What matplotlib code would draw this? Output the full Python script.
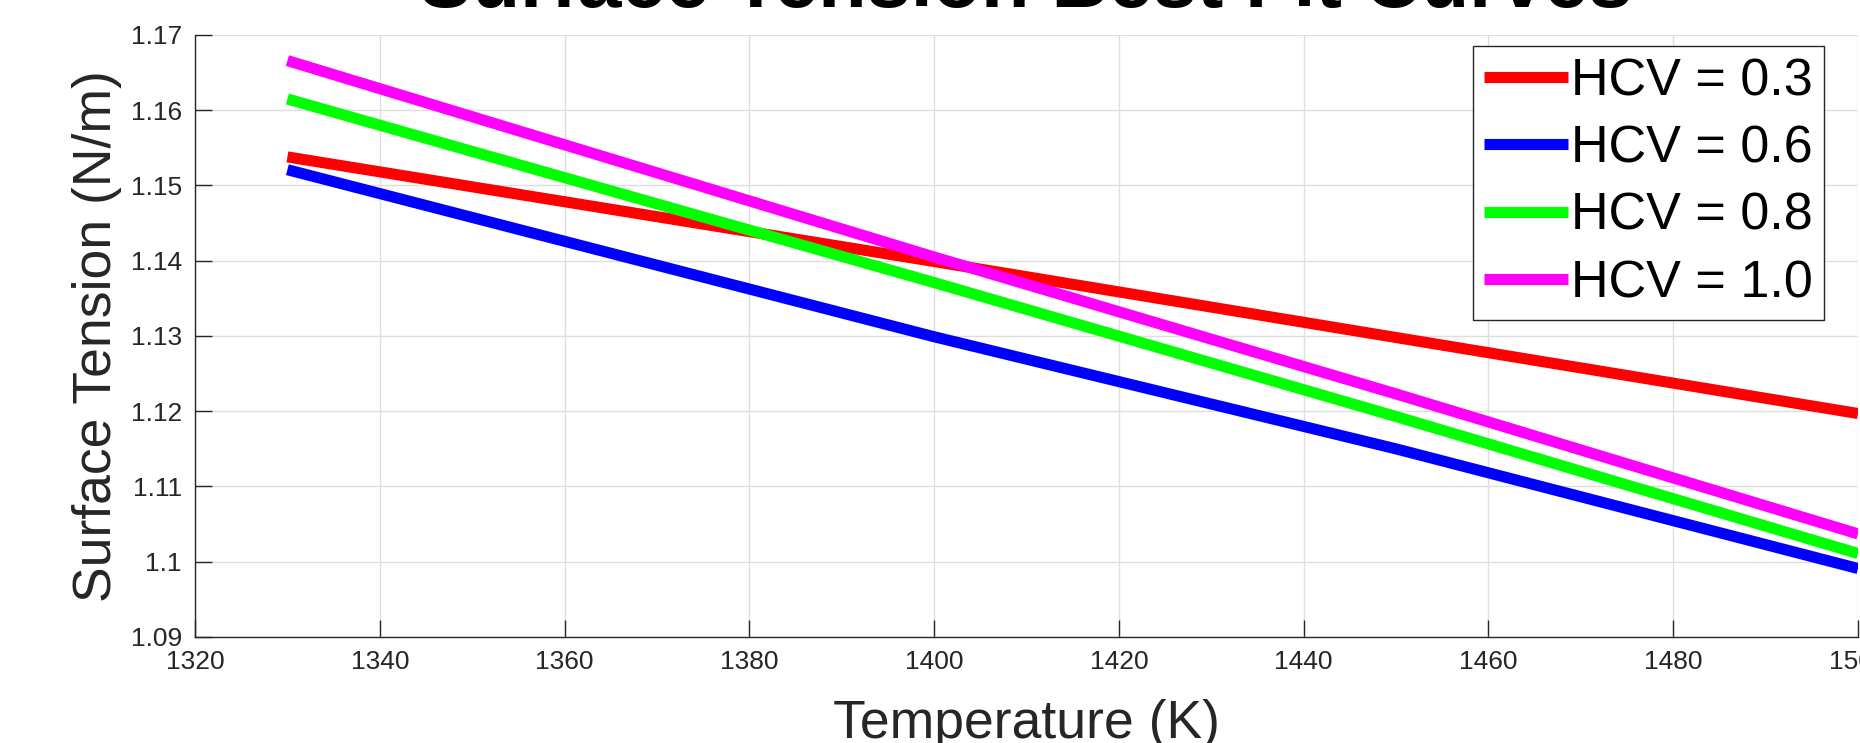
import matplotlib
matplotlib.use("Agg")
import matplotlib.pyplot as plt
import numpy as np
from matplotlib.ticker import FuncFormatter

plt.rcParams['font.family'] = ['Liberation Sans', 'DejaVu Sans']

temp = [1330, 1400, 1450, 1500]

# surface tension (N/m) for each HCV
st_03 = [1.1538, 1.1399, 1.1298, 1.1197]
st_06 = [1.1521, 1.1299, 1.1150, 1.0991]
st_08 = [1.1615, 1.1371, 1.1193, 1.1011]
st_10 = [1.1666, 1.1405, 1.1223, 1.1037]

labels = ['HCV = 0.3', 'HCV = 0.6', 'HCV = 0.8', 'HCV = 1.0']
colors = ['#ff0000', '#0000ff', '#00ff00', '#ff00ff']

xticks = np.arange(1320, 1501, 20)
yticks = np.arange(1.09, 1.1701, 0.01)

dark = (0.15, 0.15, 0.15)

fig = plt.figure(figsize=(18.6, 7.43), dpi=100)
ax = fig.add_axes([195/1860, 1 - 637/743, 1663/1860, 602/743])

for ys, lab, c in zip([st_03, st_06, st_08, st_10], labels, colors):
    ax.plot(temp, ys, color=c, lw=8, label=lab, solid_capstyle='butt')

ax.set_xlim(1320, 1500)
ax.set_ylim(1.09, 1.17)
ax.set_xticks(xticks)
ax.set_yticks(yticks)
ax.yaxis.set_major_formatter(FuncFormatter(lambda v, p: f'{round(v, 2):g}'))

ax.grid(True, color='#dedede', lw=1.0)
ax.set_axisbelow(True)

for s in ['top', 'right']:
    ax.spines[s].set_visible(False)
for s in ['left', 'bottom']:
    ax.spines[s].set_color(dark)
    ax.spines[s].set_linewidth(1.0)

ax.tick_params(axis='both', direction='in', length=12, width=1.0,
               color=dark, labelcolor=dark, labelsize=19)
ax.tick_params(axis='y', pad=9.4)
ax.tick_params(axis='x', pad=9.5)

ax.set_xlabel('Temperature (K)', fontsize=38.5, color=dark, va='baseline')
ax.xaxis.set_label_coords(0.5, -(738 - 637) / 602)
ax.set_ylabel('Surface Tension (N/m)', fontsize=38.5, color=dark, va='baseline')
ax.yaxis.set_label_coords((111 - 195) / 1663, 0.5)

fig.text(1026/1860, 1 - 7/743, 'Surface Tension Best Fit Curves',
         fontsize=57, fontweight='bold', ha='center', va='baseline')

leg = ax.legend(loc='upper right', bbox_to_anchor=(1824/1860, 1 - 46/743),
                bbox_transform=fig.transFigure, borderaxespad=0,
                fontsize=37.5, handlelength=1.6, handletextpad=0.06,
                labelspacing=0.35, borderpad=0.22, fancybox=False,
                framealpha=1, edgecolor=dark)
leg.get_frame().set_linewidth(1.0)

fig.savefig('out.png', dpi=100)
